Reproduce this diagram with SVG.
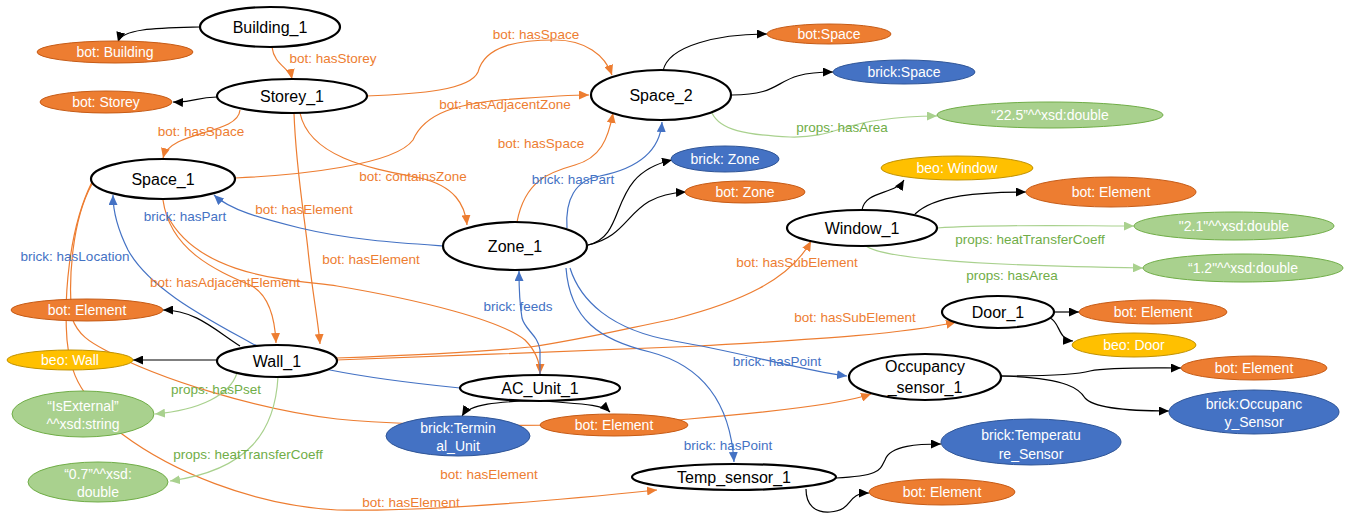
<svg xmlns="http://www.w3.org/2000/svg" width="1348" height="521" viewBox="0 0 1348 521">
<defs>
<style>
.main{fill:#fff;stroke:#000;stroke-width:2.2}
.mt{font-family:"Liberation Sans",Arial,sans-serif;font-size:16px;fill:#000;text-anchor:middle}
.or{fill:#ED7D31;stroke:#C65B16;stroke-width:1}
.bl{fill:#4472C4;stroke:#2F5597;stroke-width:1}
.ye{fill:#FFC000;stroke:#C09100;stroke-width:1}
.gr{fill:#A9D18E;stroke:#70AD47;stroke-width:1}
.ct{font-family:"Liberation Sans",Arial,sans-serif;font-size:14px;fill:#fff;text-anchor:middle}
.e{fill:none;stroke-width:1.2}
.k{stroke:#000}
.o{stroke:#ED7D31}
.b{stroke:#4472C4}
.g{stroke:#A9D18E}
.lab{font-family:"Liberation Sans",Arial,sans-serif;font-size:13.5px;text-anchor:middle}
.lo{fill:#ED7D31}
.lb{fill:#4472C4}
.lg{fill:#70AD47}
</style>
<marker id="ak" markerUnits="userSpaceOnUse" markerWidth="11" markerHeight="9" refX="10" refY="4.5" orient="auto"><path d="M0,0 L10,4.5 L0,9 z" fill="#000"/></marker>
<marker id="ao" markerUnits="userSpaceOnUse" markerWidth="11" markerHeight="9" refX="10" refY="4.5" orient="auto"><path d="M0,0 L10,4.5 L0,9 z" fill="#ED7D31"/></marker>
<marker id="ab" markerUnits="userSpaceOnUse" markerWidth="11" markerHeight="9" refX="10" refY="4.5" orient="auto"><path d="M0,0 L10,4.5 L0,9 z" fill="#4472C4"/></marker>
<marker id="ag" markerUnits="userSpaceOnUse" markerWidth="11" markerHeight="9" refX="10" refY="4.5" orient="auto"><path d="M0,0 L10,4.5 L0,9 z" fill="#A9D18E"/></marker>
</defs>
<rect width="1348" height="521" fill="#fff"/>

<g id="connectors">
<!-- black -->
<path class="e k" marker-end="url(#ak)" d="M200,27 C160,28 122,28 118,42"/>
<path class="e k" marker-end="url(#ak)" d="M217,97 C195,97 195,103 173,102"/>
<path class="e k" marker-end="url(#ak)" d="M663,71 C668,45 720,34 767,34"/>
<path class="e k" marker-end="url(#ak)" d="M732,95 C790,95 770,72 833,72"/>
<path class="e k" marker-end="url(#ak)" d="M588,245 C630,235 605,175 672,160"/>
<path class="e k" marker-end="url(#ak)" d="M588,245 C635,235 625,195 686,192"/>
<path class="e k" marker-end="url(#ak)" d="M862,210 C865,190 895,195 904,180"/>
<path class="e k" marker-end="url(#ak)" d="M915,214 C935,195 980,192 1026,192"/>
<path class="e k" marker-end="url(#ak)" d="M1054,312 L1079,312"/>
<path class="e k" marker-end="url(#ak)" d="M1050,318 C1060,322 1058,340 1073,341"/>
<path class="e k" marker-end="url(#ak)" d="M1001,376 C1060,376 1080,374 1090,371 C1110,367 1150,368 1181,368"/>
<path class="e k" marker-end="url(#ak)" d="M1001,376 C1070,378 1080,390 1085,398 C1095,410 1140,411 1169,411"/>
<path class="e k" marker-end="url(#ak)" d="M836,478 C880,476 880,470 885,460 C890,445 920,444 941,444"/>
<path class="e k" marker-end="url(#ak)" d="M806,489 C806,505 815,513 830,512 C855,510 845,493 869,493"/>
<path class="e k" marker-end="url(#ak)" d="M240,346 C215,330 195,310 163,310"/>
<path class="e k" marker-end="url(#ak)" d="M217,360 L133,360"/>
<path class="e k" marker-end="url(#ak)" d="M540,400 C500,402 470,403 462,416"/>
<path class="e k" marker-end="url(#ak)" d="M540,400 C560,404 600,402 610,412"/>
<!-- orange -->
<path class="e o" marker-end="url(#ao)" d="M272,47 C274,65 290,68 292,79"/>
<path class="e o" marker-end="url(#ao)" d="M366,96 C420,94 470,90 478,72 C485,45 520,40 555,40 C585,40 605,55 612,75"/>
<path class="e o" marker-end="url(#ao)" d="M235,178 C300,175 395,165 413,140 C425,112 460,104 500,100 C540,97 570,95 589,95"/>
<path class="e o" marker-end="url(#ao)" d="M240,110 C238,135 170,130 163,158"/>
<path class="e o" marker-end="url(#ao)" d="M517,222 C525,180 550,172 575,165 C600,158 608,140 613,113"/>
<path class="e o" marker-end="url(#ao)" d="M300,113 C310,160 380,170 420,178 C455,186 465,205 467,225"/>
<path class="e o" marker-end="url(#ao)" d="M294,113 C296,170 305,220 308,250 C312,290 318,320 320,344"/>
<path class="e o" marker-end="url(#ao)" d="M163,200 C170,250 215,270 250,285 C270,295 275,320 276,343"/>
<path class="e o" marker-end="url(#ao)" d="M167,215 C200,280 300,280 337,286 C420,300 500,320 525,340 C535,350 540,360 540,374"/>
<path class="e o" marker-end="url(#ao)" d="M336,358 C420,355 480,352 530,347 C580,340 620,330 674,319 C740,302 790,280 811,241"/>
<path class="e o" marker-end="url(#ao)" d="M336,360 C450,356 600,350 700,346 C800,340 900,335 956,322"/>
<path class="e o" marker-end="url(#ao)" d="M92,184 C72,220 68,280 72,318 C78,335 90,342 105,350 C160,380 260,410 337,419 C420,427 600,428 689,419 C760,413 840,405 871,394"/>
<path class="e o" marker-end="url(#ao)" d="M92,182 C68,230 64,300 67,340 C70,370 78,385 90,400 C105,420 115,430 122,434 C170,470 250,505 337,510 C430,512 560,500 657,490"/>
<!-- blue -->
<path class="e b" marker-end="url(#ab)" d="M444,246 C400,243 350,240 300,228 C260,218 230,210 214,195"/>
<path class="e b" marker-end="url(#ab)" d="M567,228 C565,200 575,180 600,176 C640,168 660,150 662,122"/>
<path class="e b" marker-end="url(#ab)" d="M460,388 C420,384 370,378 330,370 C290,360 265,350 253,344 C210,320 150,290 128,250 C118,230 113,210 113,195"/>
<path class="e b" marker-end="url(#ab)" d="M540,375 L540,350 C538,335 525,330 522,318 C519,300 519,285 519,271"/>
<path class="e b" marker-end="url(#ab)" d="M570,268 C580,300 610,330 674,341 C740,352 800,370 847,376"/>
<path class="e b" marker-end="url(#ab)" d="M566,268 C570,320 600,340 650,352 C700,365 730,400 734,462"/>
<!-- green -->
<path class="e g" marker-end="url(#ag)" d="M712,113 C720,130 745,135 790,137 C830,138 840,125 880,120 C900,117 920,116 937,116"/>
<path class="e g" marker-end="url(#ag)" d="M937,228 C1000,224 1080,226 1134,226"/>
<path class="e g" marker-end="url(#ag)" d="M865,245 C880,260 1000,266 1143,268"/>
<path class="e g" marker-end="url(#ag)" d="M237,373 C230,395 200,410 155,414"/>
<path class="e g" marker-end="url(#ag)" d="M278,377 C275,430 250,470 170,481"/>
<!-- labels -->
<text class="lab lo" x="333" y="63">bot: hasStorey</text>
<text class="lab lo" x="536" y="39">bot: hasSpace</text>
<text class="lab lo" x="505" y="109">bot: hasAdjacentZone</text>
<text class="lab lo" x="201" y="136">bot: hasSpace</text>
<text class="lab lo" x="541" y="148">bot: hasSpace</text>
<text class="lab lo" x="413" y="181">bot: containsZone</text>
<text class="lab lb" x="573" y="184">brick: hasPart</text>
<text class="lab lo" x="304" y="214">bot: hasElement</text>
<text class="lab lb" x="185" y="221">brick: hasPart</text>
<text class="lab lb" x="75" y="261">brick: hasLocation</text>
<text class="lab lo" x="371" y="264">bot: hasElement</text>
<text class="lab lo" x="225" y="287">bot: hasAdjacentElement</text>
<text class="lab lo" x="797" y="267">bot: hasSubElement</text>
<text class="lab lb" x="518" y="311">brick: feeds</text>
<text class="lab lo" x="855" y="322">bot: hasSubElement</text>
<text class="lab lb" x="777" y="366">brick: hasPoint</text>
<text class="lab lg" x="216" y="394">props: hasPset</text>
<text class="lab lb" x="728" y="450">brick: hasPoint</text>
<text class="lab lg" x="248" y="459">props: heatTransferCoeff</text>
<text class="lab lo" x="489" y="479">bot: hasElement</text>
<text class="lab lo" x="411" y="507">bot: hasElement</text>
<text class="lab lg" x="842" y="132">props: hasArea</text>
<text class="lab lg" x="1030" y="244">props: heatTransferCoeff</text>
<text class="lab lg" x="1012" y="280">props: hasArea</text>
</g>

<g id="Building_1"><ellipse class="main" cx="270" cy="27" rx="70" ry="20"/><text class="mt" x="270" y="33">Building_1</text></g>
<g id="Storey_1"><ellipse class="main" cx="292" cy="96" rx="75" ry="17"/><text class="mt" x="292" y="102">Storey_1</text></g>
<g id="Space_1"><ellipse class="main" cx="163" cy="179" rx="72" ry="20"/><text class="mt" x="163" y="185">Space_1</text></g>
<g id="Space_2"><ellipse class="main" cx="661" cy="95" rx="70" ry="25"/><text class="mt" x="661" y="101">Space_2</text></g>
<g id="Zone_1"><ellipse class="main" cx="515" cy="246" rx="72" ry="24"/><text class="mt" x="515" y="252">Zone_1</text></g>
<g id="Window_1"><ellipse class="main" cx="862" cy="228" rx="75" ry="18"/><text class="mt" x="862" y="234">Window_1</text></g>
<g id="Door_1"><ellipse class="main" cx="998" cy="312" rx="56" ry="16"/><text class="mt" x="998" y="318">Door_1</text></g>
<g id="Wall_1"><ellipse class="main" cx="277" cy="361" rx="60" ry="16"/><text class="mt" x="277" y="367">Wall_1</text></g>
<g id="AC_Unit_1"><ellipse class="main" cx="540" cy="388" rx="80" ry="13"/><text class="mt" x="540" y="394">AC_Unit_1</text></g>
<g id="Occupancy_sensor_1"><ellipse class="main" cx="925" cy="377" rx="76" ry="23"/><text class="mt" x="925" y="372">Occupancy</text><text class="mt" x="925" y="393">_sensor_1</text></g>
<g id="Temp_sensor_1"><ellipse class="main" cx="734" cy="477" rx="102" ry="13"/><text class="mt" x="734" y="483">Temp_sensor_1</text></g>

<g id="bot_Building"><ellipse class="or" cx="115" cy="52" rx="78" ry="11"/><text class="ct" x="115" y="57">bot: Building</text></g>
<g id="bot_Storey"><ellipse class="or" cx="106" cy="102" rx="66" ry="11"/><text class="ct" x="106" y="107">bot: Storey</text></g>
<g id="bot_Space"><ellipse class="or" cx="829" cy="34" rx="62" ry="10"/><text class="ct" x="829" y="39">bot:Space</text></g>
<g id="brick_Space"><ellipse class="bl" cx="904" cy="72" rx="71" ry="12"/><text class="ct" x="904" y="77">brick:Space</text></g>
<g id="lit_22_5"><ellipse class="gr" cx="1050" cy="115" rx="113" ry="13"/><text class="ct" x="1050" y="120">“22.5”^^xsd:double</text></g>
<g id="brick_Zone"><ellipse class="bl" cx="725" cy="159" rx="54" ry="13"/><text class="ct" x="725" y="164">brick: Zone</text></g>
<g id="bot_Zone"><ellipse class="or" cx="745" cy="192" rx="60" ry="11"/><text class="ct" x="745" y="197">bot: Zone</text></g>
<g id="beo_Window"><ellipse class="ye" cx="957" cy="168" rx="76" ry="12"/><text class="ct" x="957" y="173">beo: Window</text></g>
<g id="bot_Element_Window"><ellipse class="or" cx="1111" cy="192" rx="85" ry="15"/><text class="ct" x="1111" y="197">bot: Element</text></g>
<g id="lit_2_1"><ellipse class="gr" cx="1234" cy="226" rx="100" ry="14"/><text class="ct" x="1234" y="231">"2.1"^^xsd:double</text></g>
<g id="lit_1_2"><ellipse class="gr" cx="1243" cy="268" rx="100" ry="14"/><text class="ct" x="1243" y="273">“1.2"^^xsd:double</text></g>
<g id="bot_Element_Door"><ellipse class="or" cx="1153" cy="312" rx="74" ry="12"/><text class="ct" x="1153" y="317">bot: Element</text></g>
<g id="beo_Door"><ellipse class="ye" cx="1134" cy="345" rx="62" ry="12"/><text class="ct" x="1134" y="350">beo: Door</text></g>
<g id="bot_Element_Occ"><ellipse class="or" cx="1254" cy="368" rx="73" ry="12"/><text class="ct" x="1254" y="373">bot: Element</text></g>
<g id="brick_Occupancy_Sensor"><ellipse class="bl" cx="1254" cy="412" rx="85" ry="22"/><text class="ct" x="1254" y="409">brick:Occupanc</text><text class="ct" x="1254" y="427">y_Sensor</text></g>
<g id="brick_Temperature_Sensor"><ellipse class="bl" cx="1031" cy="442" rx="90" ry="23"/><text class="ct" x="1031" y="440">brick:Temperatu</text><text class="ct" x="1031" y="459">re_Sensor</text></g>
<g id="bot_Element_Temp"><ellipse class="or" cx="942" cy="492" rx="73" ry="13"/><text class="ct" x="942" y="497">bot: Element</text></g>
<g id="bot_Element_AC"><ellipse class="or" cx="614" cy="425" rx="74" ry="11"/><text class="ct" x="614" y="430">bot: Element</text></g>
<g id="brick_Terminal_Unit"><ellipse class="bl" cx="458" cy="436" rx="72" ry="20"/><text class="ct" x="458" y="433">brick:Termin</text><text class="ct" x="458" y="451">al_Unit</text></g>
<g id="bot_Element_Wall"><ellipse class="or" cx="87" cy="310" rx="76" ry="11"/><text class="ct" x="87" y="315">bot: Element</text></g>
<g id="beo_Wall"><ellipse class="ye" cx="70" cy="360" rx="63" ry="10"/><text class="ct" x="70" y="365">beo: Wall</text></g>
<g id="lit_IsExternal"><ellipse class="gr" cx="83" cy="414" rx="71" ry="23"/><text class="ct" x="83" y="411">“IsExternal”</text><text class="ct" x="83" y="429">^^xsd:string</text></g>
<g id="lit_0_7"><ellipse class="gr" cx="98" cy="482" rx="70" ry="20"/><text class="ct" x="98" y="479">“0.7”^^xsd:</text><text class="ct" x="98" y="497">double</text></g>
</svg>
